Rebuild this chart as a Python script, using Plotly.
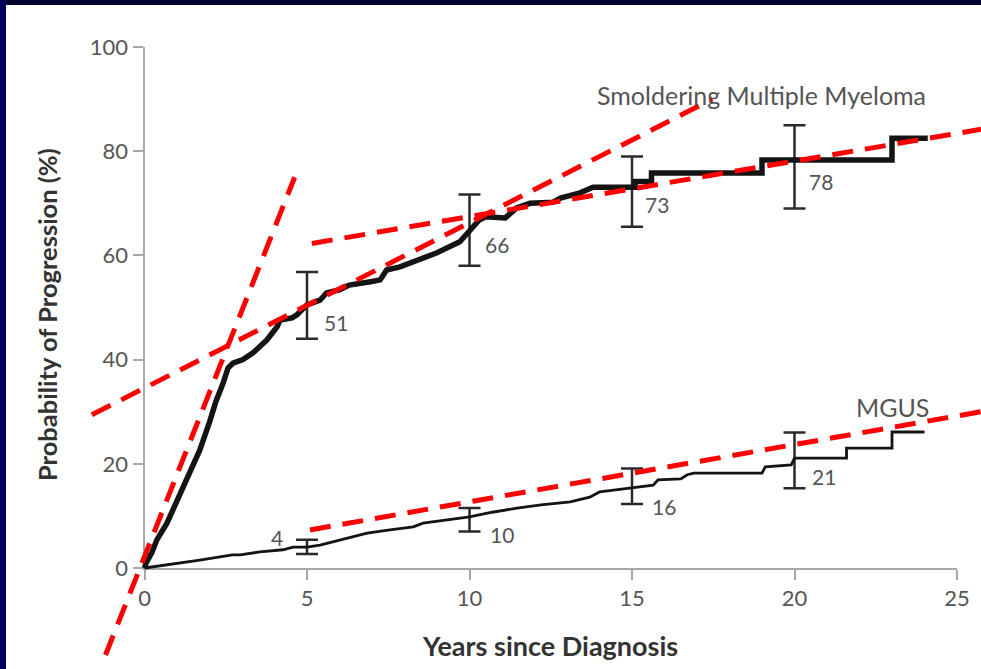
import plotly.graph_objects as go

# ---------------- data ----------------
smm_x = [0, 0.05, 0.23, 0.38, 0.69, 1.0, 1.4, 1.7, 2.0, 2.2, 2.42, 2.57, 2.72, 3.03, 3.34,
         3.77, 4.08, 4.17, 4.54, 4.69, 5.0, 5.4, 5.6, 6.0, 6.3, 6.6, 7.0, 7.25, 7.45, 7.86,
         8.57, 9.0, 9.7, 10.0, 10.3, 10.5, 11.1, 11.45, 11.86, 12.57, 12.8, 13.4, 13.8,
         15.1, 15.1, 15.6, 15.6, 19.0, 19.0, 23.0, 23.0, 24.1]
smm_y = [0, 1.0, 3.0, 5.4, 8.6, 13.0, 18.2, 22.6, 28.0, 32.0, 35.5, 38.4, 39.3, 40.0, 41.3,
         43.8, 46.3, 47.6, 48.0, 48.6, 50.5, 51.4, 52.8, 53.4, 54.3, 54.5, 55.0, 55.3, 57.2, 57.8,
         59.5, 60.5, 62.6, 64.9, 66.8, 67.4, 67.2, 69.1, 70.0, 70.2, 71.0, 72.0, 73.1,
         73.1, 74.2, 74.2, 75.8, 75.8, 78.3, 78.3, 82.5, 82.5]

mgus_x = [0, 0.7, 1.7, 2.7, 2.94, 3.55, 4.26, 4.57, 5.0, 5.4, 6.0, 6.85, 7.55, 8.27, 8.57,
          9.3, 10.0, 10.7, 11.46, 12.2, 13.1, 13.7, 14.0, 14.5, 15.0, 15.65, 15.8, 16.5,
          16.7, 16.9, 19.0, 19.1, 19.9, 20.0, 21.6, 21.6, 23.0, 23.0, 24.0]
mgus_y = [0, 0.6, 1.5, 2.5, 2.5, 3.1, 3.5, 4.0, 4.0, 4.4, 5.4, 6.7, 7.3, 7.9, 8.6,
          9.2, 9.8, 10.7, 11.5, 12.1, 12.7, 13.6, 14.6, 15.0, 15.4, 15.9, 16.9, 17.1,
          17.9, 18.2, 18.2, 19.4, 19.8, 21.1, 21.1, 23.0, 23.0, 26.1, 26.1]

ci_years = [5, 10, 15, 20]
smm_est = [51, 66, 73, 78]
smm_lo = [44, 58, 65.5, 69]
smm_hi = [56.8, 71.7, 79, 85]
mgus_est = [4, 10, 16, 21]
mgus_lo = [2.7, 7.0, 12.3, 15.3]
mgus_hi = [5.4, 11.5, 19.1, 26.0]

# dashed red trend lines drawn over the chart (endpoints in data units)
ref_x = [[-1.2, 4.62], [-1.62, 17.47], [5.15, 25.74], [5.09, 25.74]]
ref_y = [[-16.7, 75.0], [29.4, 90.0], [62.3, 84.2], [7.3, 30.0]]

x_ticks = [0, 5, 10, 15, 20, 25]
y_ticks = [0, 20, 40, 60, 80, 100]
x_title = "Years since Diagnosis"
y_title = "Probability of Progression (%)"
smm_name = "Smoldering Multiple Myeloma"
mgus_name = "MGUS"

# ---------------- layout geometry ----------------
W, H = 981, 669
XR = [0, 25]
YR = [0, 100]
xdom = [144.5 / W, 957.0 / W]
ydom = [(H - 568.0) / H, (H - 47.0) / H]


def full_range(r, dom):
    span = (r[1] - r[0]) / (dom[1] - dom[0])
    return [r[0] - dom[0] * span, r[1] + (1 - dom[1]) * span]


FONT = "Lato"
GRAY = "#555555"
AX = "#a8a8a8"

fig = go.Figure()


def ci_trace(est, lo, hi):
    return go.Scatter(
        x=ci_years, y=est, mode="markers",
        marker=dict(size=1, color="rgba(0,0,0,0)"),
        error_y=dict(type="data", symmetric=False,
                     array=[h - e for h, e in zip(hi, est)],
                     arrayminus=[e - l for e, l in zip(est, lo)],
                     color="#2a2a2a", thickness=2.5, width=11),
        hoverinfo="skip", showlegend=False, xaxis="x", yaxis="y")


fig.add_trace(ci_trace(smm_est, smm_lo, smm_hi))
fig.add_trace(ci_trace(mgus_est, mgus_lo, mgus_hi))

fig.add_trace(go.Scatter(x=smm_x, y=smm_y, mode="lines",
                         line=dict(color="#141414", width=5.5),
                         showlegend=False, xaxis="x2", yaxis="y2"))
fig.add_trace(go.Scatter(x=mgus_x, y=mgus_y, mode="lines",
                         line=dict(color="#141414", width=2.8),
                         showlegend=False, xaxis="x2", yaxis="y2"))

for rx, ry in zip(ref_x, ref_y):
    fig.add_trace(go.Scatter(x=rx, y=ry, mode="lines",
                             line=dict(color="#ff0000", width=5, dash="21px,12px"),
                             showlegend=False, xaxis="x2", yaxis="y2"))

annotations = []
smm_shift = [(15, -20), (13, -20), (11, -17), (12, -20)]
for xv, yv, (dx, dy) in zip(ci_years, smm_est, smm_shift):
    annotations.append(dict(x=xv, y=yv, xref="x", yref="y", text=str(yv),
                            showarrow=False, xanchor="left", yanchor="middle",
                            xshift=dx, yshift=dy,
                            font=dict(family=FONT, size=21, color=GRAY)))
mgus_shift = [(-22, 10, "right"), (18, -19, "left"), (18, -22, "left"), (15, -18, "left")]
for xv, yv, (dx, dy, anc) in zip(ci_years, mgus_est, mgus_shift):
    annotations.append(dict(x=xv, y=yv, xref="x", yref="y", text=str(yv),
                            showarrow=False, xanchor=anc, yanchor="middle",
                            xshift=dx, yshift=dy,
                            font=dict(family=FONT, size=21, color=GRAY)))

annotations.append(dict(x=24.1, y=90.8, xref="x", yref="y", text=smm_name,
                        showarrow=False, xanchor="right", yanchor="middle",
                        font=dict(family=FONT, size=25, color=GRAY)))
annotations.append(dict(x=24.2, y=30.9, xref="x", yref="y", text=mgus_name,
                        showarrow=False, xanchor="right", yanchor="middle",
                        font=dict(family=FONT, size=25, color=GRAY)))

annotations.append(dict(x=550 / W, y=(H - 645) / H, xref="paper", yref="paper",
                        text="<b>" + x_title + "</b>", showarrow=False,
                        xanchor="center", yanchor="middle",
                        font=dict(family=FONT, size=27, color="#333333")))
annotations.append(dict(x=47 / W, y=(H - 315) / H, xref="paper", yref="paper",
                        text="<b>" + y_title + "</b>", showarrow=False, textangle=-90,
                        xanchor="center", yanchor="middle",
                        font=dict(family=FONT, size=25.5, color="#333333")))

axis_common = dict(showgrid=False, zeroline=False, showline=True, linecolor=AX,
                   linewidth=2, ticks="outside", ticklen=10, tickwidth=2,
                   tickcolor=AX, tickfont=dict(family=FONT, size=22, color=GRAY),
                   automargin=False, fixedrange=True)

fig.update_layout(
    template="none",
    width=W, height=H, autosize=False,
    margin=dict(l=0, r=0, t=0, b=0, pad=0, autoexpand=False),
    paper_bgcolor="white", plot_bgcolor="rgba(0,0,0,0)",
    showlegend=False,
    xaxis=dict(domain=xdom, range=XR, tickvals=x_ticks, anchor="y", **axis_common),
    yaxis=dict(domain=ydom, range=YR, tickvals=y_ticks, anchor="x", **axis_common),
    xaxis2=dict(domain=[0, 1], range=full_range(XR, xdom), visible=False,
                anchor="y2", fixedrange=True, automargin=False),
    yaxis2=dict(domain=[0, 1], range=full_range(YR, ydom), visible=False,
                anchor="x2", fixedrange=True, automargin=False),
    annotations=annotations,
    shapes=[
        dict(type="rect", xref="paper", yref="paper", x0=0, x1=1,
             y0=1 - 5 / H, y1=1, fillcolor="#00002e", line=dict(width=0), layer="above"),
        dict(type="rect", xref="paper", yref="paper", x0=0, x1=6 / W,
             y0=0, y1=1, fillcolor="#00005c", line=dict(width=0), layer="above"),
    ],
)

fig.write_html("out.html", config={"displayModeBar": False})
